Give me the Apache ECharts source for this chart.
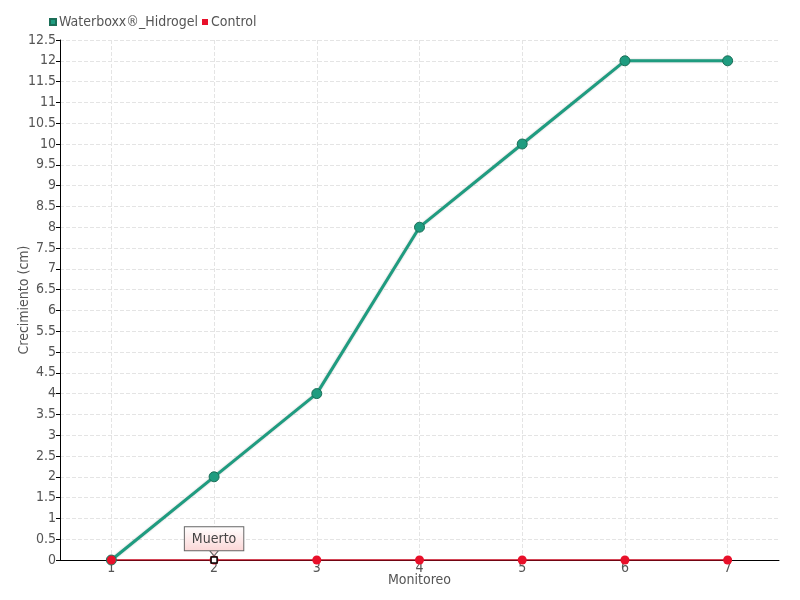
<!DOCTYPE html>
<html>
<head>
<meta charset="utf-8">
<script src="https://cdn.jsdelivr.net/npm/echarts@6/dist/echarts.min.js"></script>
<style>
  html, body { margin: 0; padding: 0; background: #fff; }
  #chart { width: 800px; height: 600px; }
</style>
</head>
<body>
<div id="chart"></div>
<script>
const monitoreo = ['1', '2', '3', '4', '5', '6', '7']
const waterboxx = [0, 2, 4, 8, 10, 12, 12]
const control = [0, 0, 0, 0, 0, 0, 0]
const muertoIndex = 1

const FONT = '"DejaVu Sans Condensed", "Liberation Sans Narrow", sans-serif'
const TEXT = '#555'

const chart = echarts.init(document.getElementById('chart'))

const option = {
  textStyle: { fontFamily: FONT },
  animation: false,
  legend: {
    left: 44,
    top: 10,
    itemWidth: 6,
    itemHeight: 6,
    itemGap: 4,
    icon: 'rect',
    textStyle: { color: TEXT, fontSize: 14, fontFamily: FONT, padding: [0, 0, 0, -2] },
    data: ['Waterboxx®_Hidrogel', 'Control']
  },
  grid: { left: 60, right: 21, top: 40, bottom: 40, containLabel: false, outerBoundsMode: 'none' },
  xAxis: {
    type: 'category',
    data: monitoreo,
    name: 'Monitoreo',
    nameLocation: 'middle',
    nameGap: 13,
    nameMoveOverlap: false,
    nameTextStyle: { color: TEXT, fontSize: 14 },
    axisLine: { lineStyle: { color: '#000' } },
    axisTick: { show: false, alignWithLabel: true },
    axisLabel: { color: TEXT, fontSize: 14, margin: 1 },
    splitLine: {
      show: true,
      alignWithLabel: true,
      lineStyle: { type: 'dashed', color: '#e4e4e4' }
    }
  },
  yAxis: {
    type: 'value',
    min: 0,
    max: 12.5,
    interval: 0.5,
    name: 'Crecimiento (cm)',
    nameLocation: 'middle',
    nameGap: 29,
    nameMoveOverlap: false,
    nameTextStyle: { color: TEXT, fontSize: 14 },
    axisLine: { show: true, lineStyle: { color: '#000' } },
    axisTick: { show: true, length: 4, lineStyle: { color: '#000' } },
    axisLabel: { color: TEXT, fontSize: 14, margin: 4 },
    splitLine: { lineStyle: { type: 'dashed', color: '#e4e4e4' } }
  },
  series: [
    {
      name: 'Waterboxx®_Hidrogel',
      type: 'line',
      data: waterboxx,
      color: '#1f9c80',
      symbol: 'circle',
      symbolSize: 10,
      lineStyle: { width: 3, color: '#1f9c80', shadowColor: 'rgba(0,0,0,0.25)', shadowBlur: 2 },
      itemStyle: { color: '#1f9c80', borderColor: '#1b6e57', borderWidth: 1 }
    },
    {
      name: 'Control',
      type: 'line',
      data: control,
      color: '#e8102a',
      symbol: 'circle',
      symbolSize: 9,
      lineStyle: { width: 1.5, color: '#c80a20' },
      itemStyle: { color: '#e8102a' },
      markPoint: {
        silent: true,
        data: [
          {
            coord: [monitoreo[muertoIndex], control[muertoIndex]],
            symbol: 'triangle',
            symbolRotate: 180,
            symbolSize: [10, 6],
            symbolOffset: [0, -7],
            itemStyle: { color: '#fde0e0', borderColor: '#666', borderWidth: 1 },
            label: { show: false }
          },
          {
            coord: [monitoreo[muertoIndex], control[muertoIndex]],
            symbol: 'rect',
            symbolSize: 6,
            itemStyle: { color: '#fff', borderColor: '#000', borderWidth: 1.5 },
            label: {
              show: true,
              position: 'top',
              distance: 6,
              formatter: 'Muerto',
              color: '#444',
              fontSize: 14,
              padding: [5, 7, 4, 7],
              borderColor: '#666',
              borderWidth: 1,
              backgroundColor: {
                type: 'linear', x: 0, y: 0, x2: 0, y2: 1,
                colorStops: [
                  { offset: 0, color: '#ffffff' },
                  { offset: 1, color: '#fbd6d6' }
                ]
              }
            }
          }
        ]
      }
    }
  ]
}

chart.setOption(option)
</script>
</body>
</html>
